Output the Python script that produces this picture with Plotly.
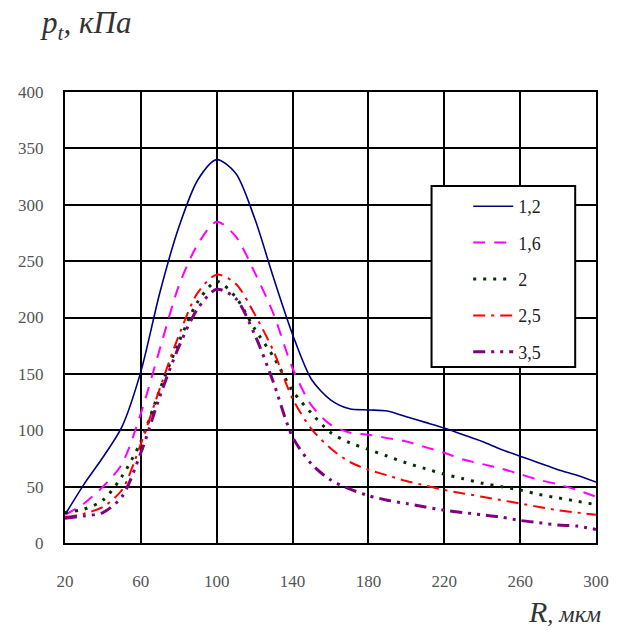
import plotly.graph_objects as go

R = [20, 30, 40, 50, 60, 70, 80, 90, 100, 110, 120, 130, 140, 150, 160, 170, 180,
     190, 200, 210, 220, 230, 240, 250, 260, 270, 280, 290, 300]

p_12 = [25, 52, 76, 103, 152, 222, 280, 322, 340, 328, 288, 235, 185, 145, 127, 119, 118,
        117, 112, 107, 102, 96, 90, 83, 77, 71, 65, 60, 54]
p_16 = [25, 35, 50, 70, 115, 172, 228, 265, 285, 272, 240, 203, 155, 122, 105, 98, 96,
        93, 90, 85, 80, 74, 70, 66, 61, 56, 52, 47, 41]
p_2 = [27, 30, 38, 59, 90, 136, 178, 214, 232, 218, 190, 165, 135, 115, 98, 89, 83,
       77, 71, 66, 61, 57, 53, 50, 47, 43, 40, 37, 34]
p_25 = [23, 26, 32, 47, 88, 137, 184, 222, 238, 230, 203, 170, 128, 101, 84, 72, 65,
        60, 55, 51, 47, 44, 41, 38, 35, 32, 29, 27, 25]
p_35 = [22, 24, 27, 41, 80, 130, 174, 208, 225, 217, 185, 142, 94, 70, 56, 48, 42,
        38, 35, 32, 29, 27, 25, 23, 20, 18, 16, 15, 12]

names = ["1,2", "1,6", "2", "2,5", "3,5"]
series = [p_12, p_16, p_2, p_25, p_35]
colors = ["#000080", "#ff00ff", "#003300", "#ff0000", "#800080"]
dashes = ["solid", "12px,9px", "3px,7px", "12px,6px,3px,6px", "12px,6px,3px,6px,3px,6px"]
widths = [1.6, 2, 3, 2, 3]

x_ticks = [20, 60, 100, 140, 180, 220, 260, 300]

SERIF = "Liberation Serif, Times New Roman, serif"

fig = go.Figure()
for i, (n, s) in enumerate(zip(names, series)):
    fig.add_trace(go.Scatter(
        x=R, y=s, name=n, mode="lines", legendgroup=str(i),
        line=dict(color=colors[i], dash=dashes[i], width=widths[i], shape="spline", smoothing=0.8),
    ))

tickfont = dict(family=SERIF, size=17, color="#555555")
fig.update_layout(
    width=621, height=635,
    margin=dict(l=65, r=20, t=92, b=92),
    paper_bgcolor="white", plot_bgcolor="white",
    showlegend=True,
    legend=dict(
        x=(472 - 65) / 536, y=(543 - 188) / 451, xanchor="left", yanchor="top",
        bgcolor="rgba(0,0,0,0)", borderwidth=0,
        font=dict(family=SERIF, size=18, color="#222222"),
        tracegroupgap=10, itemwidth=40,
    ),
    shapes=[
        dict(type="rect", xref="paper", yref="paper", layer="above",
             x0=(435 - 65) / 536, x1=(580 - 65) / 536,
             y0=(543 - 367) / 451, y1=(543 - 186) / 451,
             line=dict(color="black", width=2), fillcolor="white"),
    ],
    xaxis=dict(
        range=[20, 300], tickvals=x_ticks, showgrid=True, gridcolor="black", gridwidth=2,
        showline=True, linecolor="black", linewidth=2, mirror=True, zeroline=False,
        ticks="", tickfont=tickfont, ticklabelstandoff=22,
    ),
    yaxis=dict(
        range=[0, 400], dtick=50, showgrid=True, gridcolor="black", gridwidth=2,
        showline=True, linecolor="black", linewidth=2, mirror=True, zeroline=False,
        ticks="", tickfont=tickfont, ticklabelstandoff=16,
    ),
    annotations=[
        dict(
            text="<i>p</i><sub><i>t</i></sub><i>, кПа</i>",
            xref="paper", yref="paper", x=-0.05, y=1.10, xanchor="left", yanchor="bottom",
            showarrow=False, font=dict(family=SERIF, size=31, color="#333333"),
        ),
        dict(
            text="<i>R</i><span style='font-size:24px'><i>, мкм</i></span>",
            xref="paper", yref="paper", x=(608 - 65) / 536, y=-0.11, xanchor="right", yanchor="top",
            showarrow=False, font=dict(family=SERIF, size=30, color="#333333"),
        ),
    ],
)

fig.write_html("out.html")
